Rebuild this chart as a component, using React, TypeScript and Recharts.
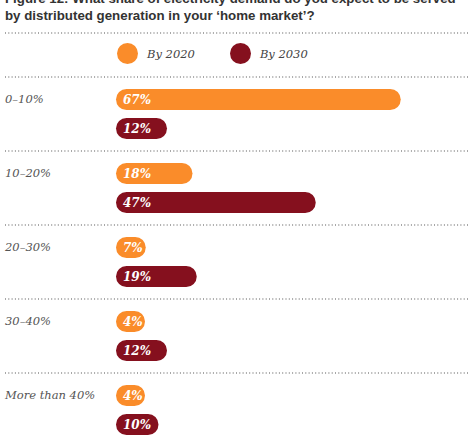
import React from 'react';
import { BarChart, Bar, XAxis, YAxis, CartesianGrid, Legend, LabelList } from 'recharts';

const categories = ['0–10%', '10–20%', '20–30%', '30–40%', 'More than 40%'];
const by2020 = [67, 18, 7, 4, 4];
const by2030 = [12, 47, 19, 12, 10];

const data = categories.map((name, i) => ({ name, by2020: by2020[i], by2030: by2030[i] }));

const ORANGE = '#FA8C2A';
const RED = '#85101E';
const DOT = '#8a8a8a';
const SERIF = '"DejaVu Serif", Georgia, serif';
const LEGEND_H = 44;

const CategoryTick = (props: any) => {
    const { y, payload } = props;
    return (
        <text x={5} y={y - 15} dy={4} fill="#555" fontFamily={SERIF} fontStyle="italic" fontSize={11.5} textAnchor="start">
            {payload.value}
        </text>
    );
};

const LegendContent = (props: any) => {
    const items = props.payload || [];
    return (
        <div style={{ position: 'relative', width: 469, height: LEGEND_H }}>
            <svg width={469} height={4} style={{ position: 'absolute', top: -2, left: 0 }}>
                <line x1={5} x2={469} y1={2} y2={2} stroke={DOT} strokeWidth={1.3} strokeDasharray="1 2.3" />
            </svg>
            <div style={{ position: 'absolute', top: 10, left: 117, display: 'flex', alignItems: 'center' }}>
                {items.map((it: any, i: number) => (
                    <div key={i} style={{ display: 'flex', alignItems: 'center', marginRight: 35 }}>
                        <span style={{ width: 21, height: 21, borderRadius: '50%', background: it.color, display: 'inline-block' }} />
                        <span style={{ marginLeft: 9, fontFamily: SERIF, fontStyle: 'italic', fontSize: 11.5, color: '#444' }}>{it.value}</span>
                    </div>
                ))}
            </div>
        </div>
    );
};

const App: React.FC = () => {
    return (
        <div style={{ position: 'absolute', top: 0, left: 0, width: 469, height: 450, background: '#fff' }}>
            <div
                style={{
                    position: 'absolute',
                    top: -9,
                    left: 5,
                    fontFamily: '"Liberation Sans", Arial, sans-serif',
                    fontWeight: 'bold',
                    fontSize: 13.3,
                    lineHeight: '16.5px',
                    color: '#333',
                    whiteSpace: 'nowrap',
                }}
            >
                Figure 12: What share of electricity demand do you expect to be served
                <br />
                by distributed generation in your ‘home market’?
            </div>
            <BarChart
                width={469}
                height={450}
                data={data}
                layout="vertical"
                margin={{ top: 33, right: 13, left: 0, bottom: 3 }}
                barSize={21}
                barGap={8}
                style={{ position: 'absolute', top: 0, left: 0 }}
            >
                <CartesianGrid
                    vertical={false}
                    x={5}
                    width={464}
                    stroke={DOT}
                    strokeWidth={1.3}
                    strokeDasharray="1 2.3"
                    horizontalCoordinatesGenerator={({ offset }: any) =>
                        categories.map((_, i) => offset.top + (i * offset.height) / categories.length)
                    }
                />
                <XAxis type="number" domain={[0, 80]} hide />
                <YAxis type="category" dataKey="name" width={116} axisLine={false} tickLine={false} tick={<CategoryTick />} />
                <Legend verticalAlign="top" align="left" height={LEGEND_H} wrapperStyle={{ left: 0, width: 469 }} content={<LegendContent />} />
                <Bar dataKey="by2020" name="By 2020" fill={ORANGE} radius={10.5} minPointSize={29} isAnimationActive={false}>
                    <LabelList
                        dataKey="by2020"
                        position="insideLeft"
                        offset={7}
                        formatter={(v: any) => `${v}%`}
                        fill="#fff"
                        fontFamily={SERIF}
                        fontStyle="italic"
                        fontWeight="bold"
                        fontSize={12}
                    />
                </Bar>
                <Bar dataKey="by2030" name="By 2030" fill={RED} radius={10.5} minPointSize={29} isAnimationActive={false}>
                    <LabelList
                        dataKey="by2030"
                        position="insideLeft"
                        offset={7}
                        formatter={(v: any) => `${v}%`}
                        fill="#fff"
                        fontFamily={SERIF}
                        fontStyle="italic"
                        fontWeight="bold"
                        fontSize={12}
                    />
                </Bar>
            </BarChart>
        </div>
    );
};

export default App;
